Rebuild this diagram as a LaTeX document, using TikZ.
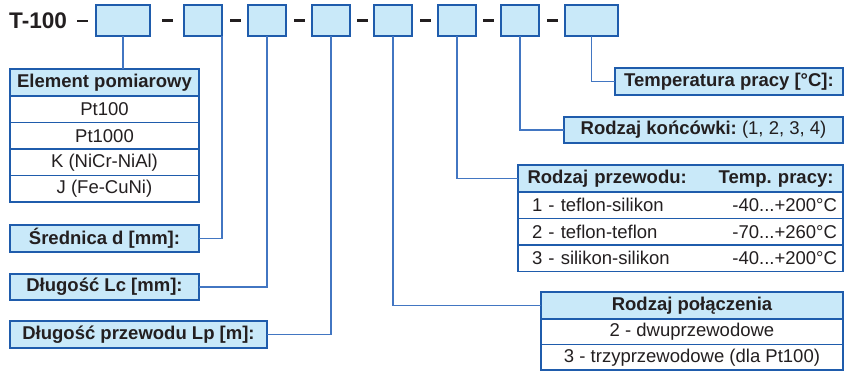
\documentclass[tikz,border=0pt]{standalone}
\usepackage{fontspec}
\setmainfont{Liberation Sans}
\usetikzlibrary{positioning}
\definecolor{boxfill}{RGB}{201,233,249}
\definecolor{boxline}{RGB}{31,92,172}
\definecolor{linkline}{RGB}{66,118,194}
\definecolor{ink}{RGB}{35,31,32}
\frenchspacing

\begin{document}
\begin{tikzpicture}[x=1pt,y=-1pt,
  field/.style={draw=boxline,fill=boxfill,line width=1.3pt,minimum width=38pt,minimum height=31pt,inner sep=0pt,outer sep=0pt,anchor=north west},
  head/.style={draw=boxline,fill=boxfill,line width=1.3pt,minimum height=27pt,inner sep=0pt,outer sep=0pt,text=ink,font=\bfseries\fontsize{18.5}{21}\selectfont},
  row/.style={head,fill=white,minimum height=26.5pt,font=\fontsize{18.5}{21}\selectfont},
  hyph/.style={fill=ink,minimum width=11pt,minimum height=2.2pt,inner sep=0pt},
  link/.style={draw=linkline,line width=1.3pt}]

\useasboundingbox (0,0) rectangle (848,372);

% code fields
\node [anchor=west,inner sep=0pt,text=ink,font=\bfseries\fontsize{22.6}{26}\selectfont] (T) at (9,21) {T-100};
\node [field,minimum width=54pt] (B1) at (96,5) {};
\node [field] (B2) at (184,5) {};
\node [field] (B3) at (248,5) {};
\node [field] (B4) at (312,5) {};
\node [field] (B5) at (374,5) {};
\node [field] (B6) at (438,5) {};
\node [field] (B7) at (501,5) {};
\node [field,minimum width=53pt] (B8) at (565,5) {};

\node [hyph] (D0) at (82,21) {};
\path (B1) -- node [hyph] (D1) {} (B2);
\path (B2) -- node [hyph] (D2) {} (B3);
\path (B3) -- node [hyph] (D3) {} (B4);
\path (B4) -- node [hyph] (D4) {} (B5);
\path (B5) -- node [hyph] (D5) {} (B6);
\path (B6) -- node [hyph] (D6) {} (B7);
\path (B7) -- node [hyph] (D7) {} (B8);

% left side
\node [head,minimum width=189pt,anchor=north west] (E0) at (10,69) {Element pomiarowy};
\node [row,minimum width=189pt,below=0pt of E0] (E1) {Pt100};
\node [row,minimum width=189pt,below=0pt of E1] (E2) {Pt1000};
\node [row,minimum width=189pt,below=0pt of E2] (E3) {K (NiCr-NiAl)};
\node [row,minimum width=189pt,below=0pt of E3] (E4) {J (Fe-CuNi)};

\node [head,minimum width=189pt,anchor=north west] (S) at (10,225) {Średnica d [mm]:};
\node [head,minimum width=189pt,minimum height=26pt,anchor=north west] (L) at (10,274) {Długość Lc [mm]:};
\node [head,minimum width=257pt,anchor=north west] (P) at (10,321) {Długość przewodu Lp [m]:};

% right side
\node [head,minimum width=228pt,anchor=north west] (TP) at (615,68) {Temperatura pracy [°C]:};
\node [head,minimum width=279pt,minimum height=26pt,anchor=north west] (RK) at (564,117) {Rodzaj końcówki: \mdseries(1, 2, 3, 4)};

\node [head,minimum width=325pt,text width=306pt,anchor=north west] (W0) at (518,165) {\noindent Rodzaj przewodu:\hfill Temp. pracy:};
\node [row,minimum width=325pt,text width=313pt,below=0pt of W0] (W1) {\noindent\hspace{8pt}1 - teflon-silikon\hfill -40...+200°C};
\node [row,minimum width=325pt,text width=313pt,below=0pt of W1] (W2) {\noindent\hspace{8pt}2 - teflon-teflon\hfill -70...+260°C};
\node [row,minimum width=325pt,text width=313pt,below=0pt of W2] (W3) {\noindent\hspace{8pt}3 - silikon-silikon\hfill -40...+200°C};

\node [head,minimum width=302pt,anchor=north west] (C0) at (541,292) {Rodzaj połączenia};
\node [row,minimum width=302pt,minimum height=25.5pt,below=0pt of C0] (C1) {2 - dwuprzewodowe};
\node [row,minimum width=302pt,minimum height=25.5pt,below=0pt of C1] (C2) {3 - trzyprzewodowe (dla Pt100)};

% connectors
\draw [link] (B1.south) -- (B1.south |- E0.north);
\draw [link] (B2.south east) |- (S.east);
\draw [link] (B3.south) |- (L.east);
\draw [link] (B4.south) |- (P.east);
\draw [link] (B5.south) |- (C0.west);
\draw [link] (B6.south) |- (W0.west);
\draw [link] (B7.south) |- (RK.west);
\draw [link] (B8.south) |- (TP.west);

\end{tikzpicture}
\end{document}
